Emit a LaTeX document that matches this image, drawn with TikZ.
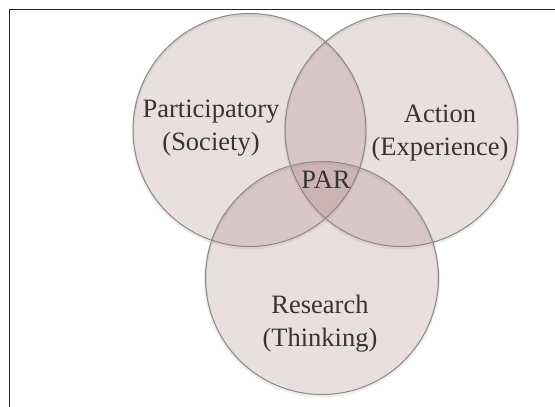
\documentclass[tikz,border=0pt]{standalone}
\usepackage{fontspec}
\setmainfont{Liberation Serif}
\definecolor{vfill}{RGB}{164,120,120}
\definecolor{vline}{RGB}{140,138,138}
\definecolor{vtext}{RGB}{55,52,52}
\tikzset{
  venn/.style={circle, minimum size=233pt, inner sep=0pt, fill=vfill, fill opacity=0.23, draw=vline, draw opacity=1, line width=1pt},
  vshadow/.style={circle, minimum size=233pt, inner sep=0pt, draw=black, draw opacity=0.07, line width=3pt},
  lbl/.style={text=vtext, font=\fontsize{26.5}{33}\selectfont, align=center, inner sep=0pt},
  frame/.style={line width=1.6pt, draw=black!85}
}
\begin{document}
\begin{tikzpicture}[x=1pt,y=-1pt]
\useasboundingbox (0,0) rectangle (555,407);
\fill[white] (0,0) rectangle (555,407);
% frame
\coordinate (ftr) at (555,9.5);
\coordinate (ftl) at (9.5,9.5);
\coordinate (fbl) at (9.5,407);
\draw[frame] (ftr) -- (ftl) -- (fbl);
% shadows
\node[vshadow] (sL) at (249.5,131.5) {};
\node[vshadow] (sR) at (401.5,131.5) {};
\node[vshadow] (sB) at (322,279.5) {};
% circles
\node[venn] (cL) at (249.5,130) {};
\node[venn] (cR) at (401.5,130) {};
\node[venn] (cB) at (322,278) {};
% labels
\node[lbl] (tP) at (211,128) {Participatory\\(Society)};
\node[lbl] (tA) at (440,133) {Action\\(Experience)};
\node[lbl] (tR) at (320,324) {Research\\(Thinking)};
\node[lbl] (tPAR) at (326,180) {PAR};
\end{tikzpicture}
\end{document}
